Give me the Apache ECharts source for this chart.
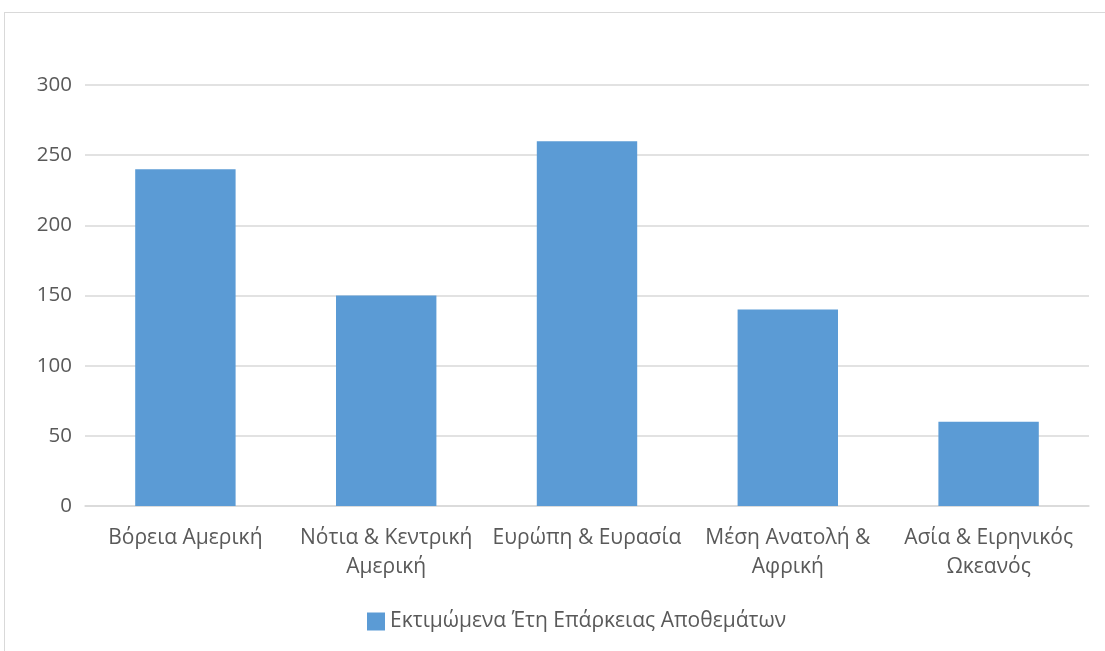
<!DOCTYPE html>
<html lang="el">
<head>
    <meta charset="UTF-8">
    <title>Chart</title>
    <script src="https://cdn.jsdelivr.net/npm/echarts@6.0.0/dist/echarts.min.js"></script>
    <style>
        body { margin: 0; background: #fff; }
        #frame { position: absolute; left: 4px; top: 12px; width: 1120px; height: 660px; border: 1px solid #d9d9d9; }
        #chart { position: absolute; left: 0; top: 0; width: 1105px; height: 651px; }
    </style>
</head>
<body>
<div id="frame"></div>
<div id="chart"></div>
<script>
    var regions = ['Βόρεια Αμερική', 'Νότια & Κεντρική\nΑμερική', 'Ευρώπη & Ευρασία', 'Μέση Ανατολή &\nΑφρική', 'Ασία & Ειρηνικός\nΩκεανός'];
    var years = [240, 150, 260, 140, 60];
    var seriesName = 'Εκτιμώμενα Έτη Επάρκειας Αποθεμάτων';
    var yTicks = [0, 50, 100, 150, 200, 250, 300];

    var font = '"Open Sans", "Noto Sans", sans-serif';
    var myChart = echarts.init(document.getElementById('chart'));
    var option = {
        animation: false,
        textStyle: { fontFamily: font },
        grid: { left: 85, right: 16, top: 85, bottom: 145 },
        legend: {
            data: [seriesName],
            top: 606,
            left: 362,
            itemWidth: 18,
            itemHeight: 18,
            itemGap: 6,
            icon: 'rect',
            textStyle: { fontSize: 21, color: '#595959', fontFamily: font }
        },
        xAxis: {
            type: 'category',
            data: regions,
            axisTick: { show: false },
            axisLine: { lineStyle: { color: '#d9d9d9', width: 1.5 } },
            axisLabel: { color: '#595959', fontSize: 21, margin: 18, lineHeight: 29, interval: 0 }
        },
        yAxis: {
            type: 'value',
            min: yTicks[0],
            max: yTicks[yTicks.length - 1],
            interval: 50,
            axisLine: { show: false },
            axisTick: { show: false },
            axisLabel: { color: '#595959', fontSize: 20.5, margin: 13 },
            splitLine: { lineStyle: { color: '#d9d9d9', width: 1.5 } }
        },
        series: [{
            name: seriesName,
            type: 'bar',
            data: years,
            barWidth: '50%',
            itemStyle: { color: '#5b9bd5' }
        }]
    };
    myChart.setOption(option);
</script>
</body>
</html>
